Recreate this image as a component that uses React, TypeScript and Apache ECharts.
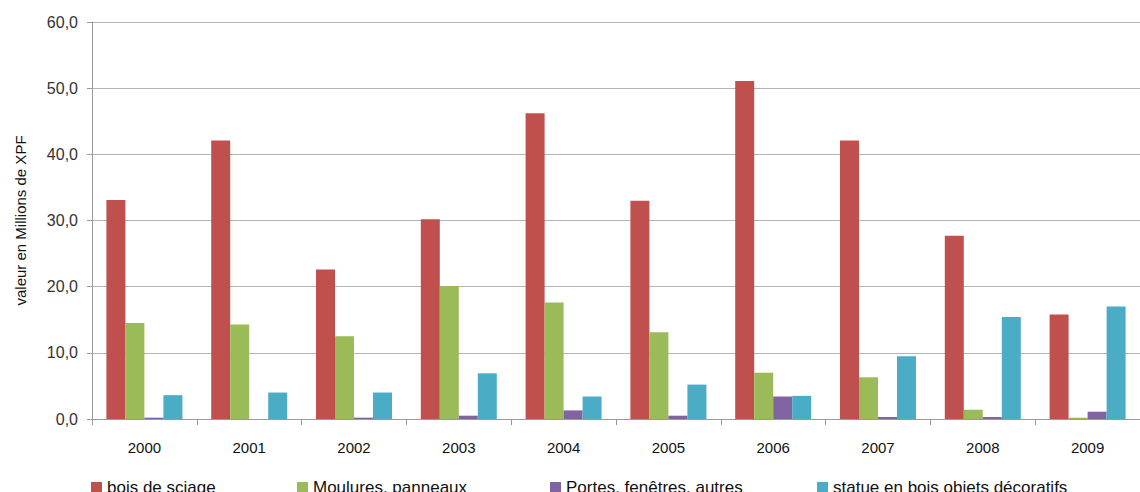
import React, { useEffect, useRef } from "react";
import * as echarts from "echarts";

const years = ["2000", "2001", "2002", "2003", "2004", "2005", "2006", "2007", "2008", "2009"];
const boisDeSciage = [33.1, 42.1, 22.6, 30.2, 46.2, 33.0, 51.1, 42.1, 27.7, 15.8];
const moulures = [14.5, 14.3, 12.5, 20.1, 17.6, 13.1, 7.0, 6.3, 1.4, 0.2];
const portes = [0.2, 0.0, 0.2, 0.5, 1.3, 0.5, 3.4, 0.3, 0.3, 1.1];
const statue = [3.6, 4.0, 4.0, 6.9, 3.4, 5.2, 3.5, 9.5, 15.4, 17.0];

const seriesNames = [
  "bois de sciage",
  "Moulures, panneaux",
  "Portes, fenêtres, autres",
  "statue en bois objets décoratifs",
];
const seriesData = [boisDeSciage, moulures, portes, statue];
const colors = ["#C0504D", "#9BBB59", "#8064A2", "#4BACC6"];
const legendLefts = [91, 297, 550, 817];

export default function App() {
  const ref = useRef<HTMLDivElement>(null);
  useEffect(() => {
    if (!ref.current) return;
    const chart = echarts.init(ref.current, null, { renderer: "svg" });
    const font = "'Liberation Sans', Arial, sans-serif";
    chart.setOption({
      animation: false,
      color: colors,
      textStyle: { fontFamily: font },
      grid: { left: 92, right: 0, top: 22, bottom: 73, containLabel: false },
      legend: seriesNames.map((n, i) => ({
        data: [n],
        left: legendLefts[i],
        top: 479,
        padding: 0,
        itemWidth: 11,
        itemHeight: 11,
        icon: "rect",
        selectedMode: false,
        textStyle: { fontSize: 17, color: "#111", fontFamily: font },
      })),
      xAxis: {
        type: "category",
        data: years,
        axisLine: { lineStyle: { color: "#9a9a9a", width: 1 } },
        axisTick: { show: true, length: 6, lineStyle: { color: "#9a9a9a" } },
        axisLabel: { fontSize: 15, color: "#111", margin: 21, fontFamily: font },
      },
      yAxis: {
        type: "value",
        min: 0,
        max: 60,
        interval: 10,
        name: "valeur en Millions de XPF",
        nameLocation: "middle",
        nameRotate: 90,
        nameGap: 64,
        nameTextStyle: { fontSize: 15, color: "#111", fontFamily: font },
        axisLine: { show: true, lineStyle: { color: "#9a9a9a", width: 1 } },
        axisTick: { show: true, length: 5, lineStyle: { color: "#9a9a9a" } },
        axisLabel: {
          fontSize: 16,
          color: "#333",
          margin: 14,
          fontFamily: font,
          formatter: (v: number) => v.toFixed(1).replace(".", ","),
        },
        splitLine: { lineStyle: { color: "#b5b5b5", width: 1 } },
      },
      series: seriesNames.map((n, i) => ({
        name: n,
        type: "bar",
        data: seriesData[i],
        barWidth: 19,
        barGap: "0%",
        itemStyle: { color: colors[i] },
      })),
    });
    return () => chart.dispose();
  }, []);
  return (
    <div
      ref={ref}
      style={{ position: "absolute", left: 0, top: 0, width: 1140, height: 492, background: "#fff" }}
    />
  );
}
